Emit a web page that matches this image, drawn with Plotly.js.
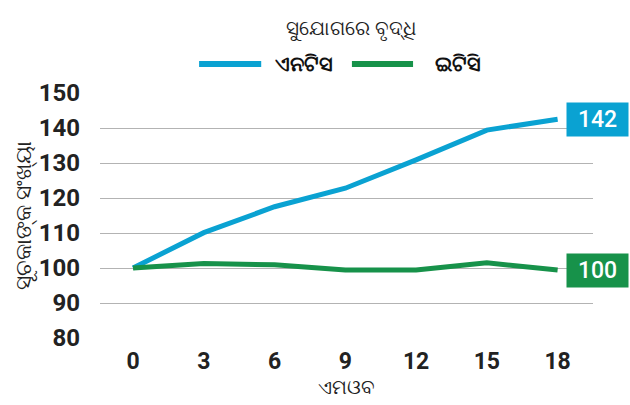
<!DOCTYPE html>
<html>
<head>
<meta charset="utf-8">
<script src="https://cdn.plot.ly/plotly-3.0.1.min.js"></script>
<style>html,body{margin:0;padding:0;background:#fff;}#chart{width:630px;height:405px;}</style>
</head>
<body>
<div id="chart"></div>
<script>
const months = [0, 3, 6, 9, 12, 15, 18];
const ntsValues = [100, 110.1, 117.5, 122.8, 130.9, 139.4, 142.5];
const etsValues = [100, 101.3, 100.9, 99.4, 99.4, 101.5, 99.4];
const seriesNames = ["ଏନଟିସ", "ଇଟିସି"];
const endLabels = ["142", "100"];
const yTicks = [80, 90, 100, 110, 120, 130, 140, 150];
const titleText = "ସୁଯୋଗରେ ବୃଦ୍ଧି";
const xTitle = "ଏମଓବ";
const yTitle = "ସୂଚକାଙ୍କ ସଂଖ୍ୟା";

const colors = ["#0aa2d2", "#17924a"];
const font = "Roboto, 'Noto Sans', sans-serif";

const traces = [
  {x: months, y: ntsValues, name: seriesNames[0], type: "scatter", mode: "lines",
   line: {color: colors[0], width: 5}, showlegend: false},
  {x: months, y: etsValues, name: seriesNames[1], type: "scatter", mode: "lines",
   line: {color: colors[1], width: 5}, showlegend: false}
];

const lastIdx = months.length - 1;
const annotations = [ntsValues, etsValues].map((vals, i) => ({
  x: months[lastIdx], y: vals[lastIdx], xref: "x", yref: "y",
  text: endLabels[i], showarrow: false, xanchor: "left", yanchor: "middle",
  xshift: 8, bgcolor: colors[i], borderpad: 4, width: 53, height: 25,
  font: {family: font, size: 23, color: "#ffffff", weight: 500}
}));

// Custom legend (line swatch + label), positioned in paper coordinates
const legendY = 1.118;
const legendSpots = [{x0: 0.201, x1: 0.327, tx: 0.351}, {x0: 0.511, x1: 0.635, tx: 0.675}];
const shapes = legendSpots.map((p, i) => ({
  type: "line", xref: "paper", yref: "paper", x0: p.x0, x1: p.x1, y0: legendY, y1: legendY,
  line: {color: colors[i], width: 6}
}));
legendSpots.forEach((p, i) => annotations.push({
  x: p.tx, y: legendY, xref: "paper", yref: "paper", text: seriesNames[i],
  showarrow: false, xanchor: "left", yanchor: "middle",
  font: {family: font, size: 21, color: "#111", weight: "bold"}
}));

const layout = {
  width: 630, height: 405,
  margin: {l: 100, r: 37, t: 93, b: 67},
  paper_bgcolor: "#ffffff", plot_bgcolor: "#ffffff",
  font: {family: font, color: "#222"},
  title: {text: titleText, x: 0.558, xanchor: "center", y: 0.93, yanchor: "middle",
          font: {family: font, size: 20, color: "#222"}},
  showlegend: false,
  xaxis: {range: [-1.4, 19.5], tickvals: months, ticktext: months.map(String),
          showgrid: false, zeroline: false, showline: false, ticks: "", ticklabelstandoff: 7,
          tickfont: {family: font, size: 23, color: "#222", weight: "bold"},
          title: {text: xTitle, font: {family: font, size: 20, color: "#222"}, standoff: 5}},
  yaxis: {range: [80, 150], tickvals: yTicks, showgrid: true, gridcolor: "#b3b3b3", gridwidth: 1,
          zeroline: false, showline: false, ticks: "", ticklabelstandoff: 19,
          tickfont: {family: font, size: 24, color: "#222", weight: "bold"},
          title: {text: yTitle, font: {family: font, size: 22, color: "#222"}, standoff: 0}},
  shapes: shapes,
  annotations: annotations
};

Plotly.newPlot("chart", traces, layout, {displayModeBar: false, staticPlot: true});
</script>
</body>
</html>
